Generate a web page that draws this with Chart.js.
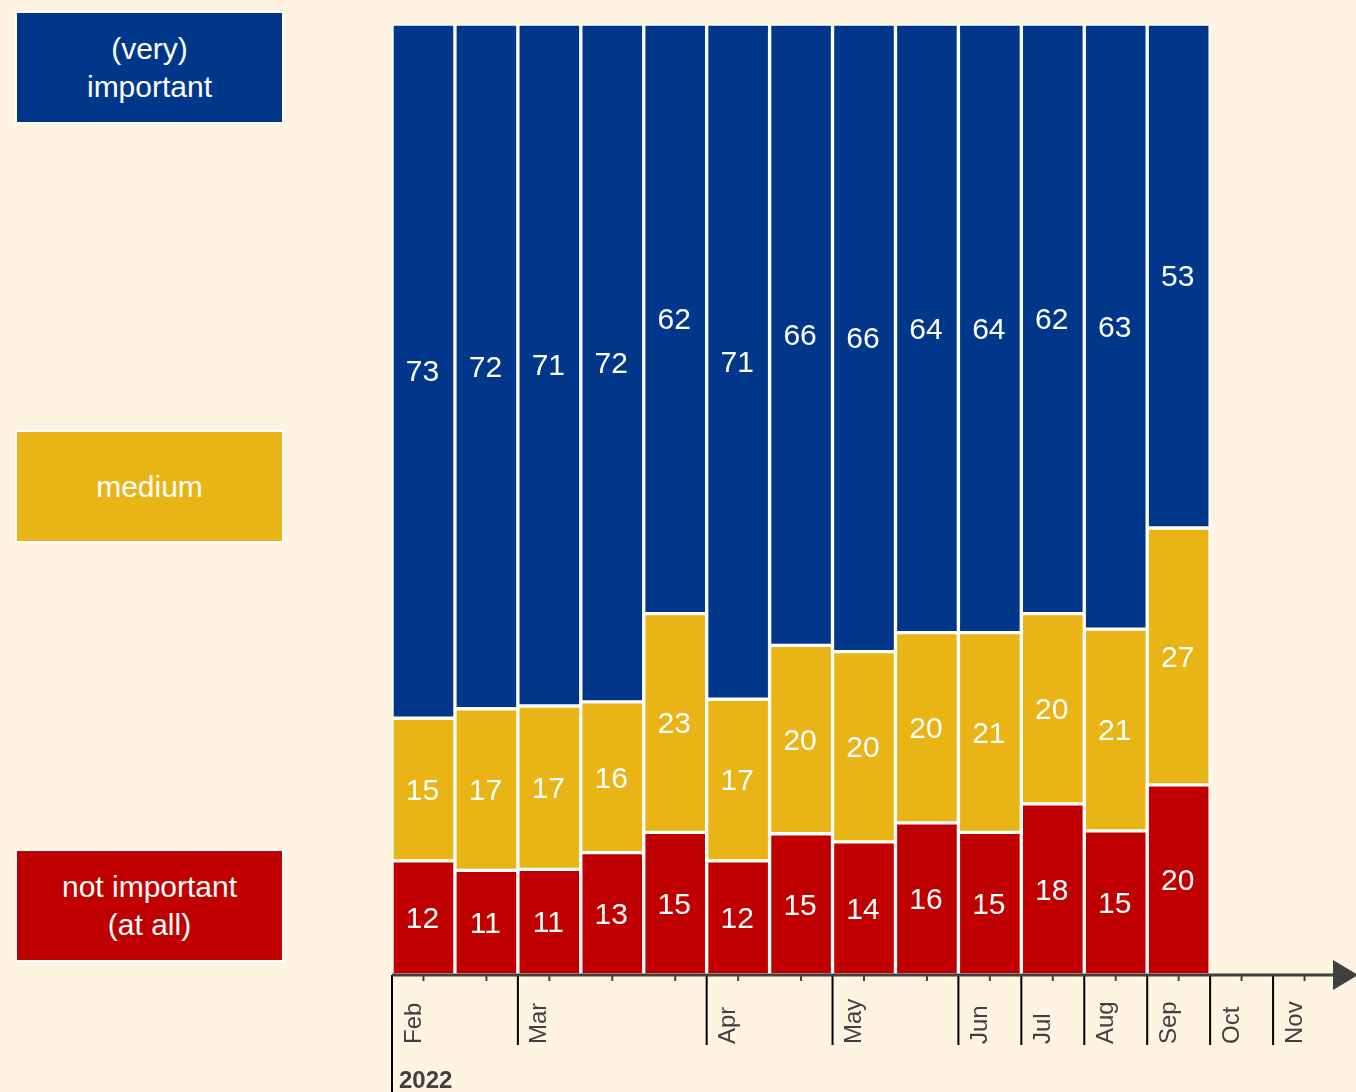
<!DOCTYPE html>
<html>
<head>
<meta charset="utf-8">
<script src="https://cdn.jsdelivr.net/npm/chart.js@4"></script>
<style>
  html, body { margin: 0; padding: 0; background: #fff3e1; }
  #wrap { position: relative; width: 1356px; height: 1092px; overflow: hidden; }
  canvas { position: absolute; left: 0; top: 0; }
  .legend-box {
    position: absolute; left: 15px; width: 265px; height: 109px;
    border: 2px solid #ffffff; color: #ffffff;
    font-family: "Liberation Sans", Arial, sans-serif; font-size: 30px; line-height: 38px;
    display: flex; align-items: center; justify-content: center; text-align: center;
  }
</style>
</head>
<body>
<div id="wrap">
  <canvas id="chart" width="1356" height="1092"></canvas>
  <div class="legend-box" style="top:11px;background:#00378b;">(very)<br>important</div>
  <div class="legend-box" style="top:430px;background:#e9b416;">medium</div>
  <div class="legend-box" style="top:849px;background:#c00000;">not important<br>(at all)</div>
</div>
<script>
// 月份槽位（最后两个没有数据）
const slots = ['Feb', 'Feb', 'Mar', 'Mar', 'Mar', 'Apr', 'Apr', 'May', 'May', 'Jun', 'Jul', 'Aug', 'Sep', 'Oct', 'Nov'];
const yearLabel = '2022';

// 各系列数值（%）
const notImportant = [12, 11, 11, 13, 15, 12, 15, 14, 16, 15, 18, 15, 20];
const medium = [15, 17, 17, 16, 23, 17, 20, 20, 20, 21, 20, 21, 27];
const important = [73, 72, 71, 72, 62, 71, 66, 66, 64, 64, 62, 63, 53];

const seriesNames = ['not important (at all)', 'medium', '(very) important'];
const seriesColors = ['#c00000', '#e9b416', '#00378b'];

// 归一化到100%
const raw = [notImportant, medium, important];
const totals = notImportant.map((v, i) => v + medium[i] + important[i]);
const shares = raw.map(s => s.map((v, i) => v / totals[i] * 100));

// 数值标签
const valueLabels = {
  id: 'valueLabels',
  afterDatasetsDraw(chart) {
    const ctx = chart.ctx;
    ctx.save();
    ctx.fillStyle = '#ffffff';
    ctx.font = '30px "Liberation Sans", Arial, sans-serif';
    ctx.textAlign = 'center';
    ctx.textBaseline = 'middle';
    chart.data.datasets.forEach((ds, di) => {
      const meta = chart.getDatasetMeta(di);
      meta.data.forEach((bar, i) => {
        if (raw[di][i] == null) return;
        const p = bar.getCenterPoint();
        ctx.fillText(String(raw[di][i]), p.x - 1, p.y + 2);
      });
    });
    ctx.restore();
  }
};

// 时间轴
const timeAxis = {
  id: 'timeAxis',
  afterDraw(chart) {
    const ctx = chart.ctx;
    const area = chart.chartArea;
    const x = chart.scales.x;
    const y0 = area.bottom;
    const step = x.getPixelForValue(1) - x.getPixelForValue(0);
    ctx.save();

    // 月份分隔线和标签
    ctx.strokeStyle = '#000000';
    ctx.lineWidth = 2;
    ctx.font = '24px "Liberation Sans", Arial, sans-serif';
    ctx.fillStyle = '#404040';
    slots.forEach((m, i) => {
      if (i > 0 && slots[i - 1] === m) return;
      const bx = x.getPixelForValue(i) - step / 2;
      ctx.beginPath();
      ctx.moveTo(bx, y0);
      ctx.lineTo(bx, i === 0 ? 1092 : y0 + 70);
      ctx.stroke();
      ctx.save();
      ctx.translate(bx + 22, y0 + 69);
      ctx.rotate(-Math.PI / 2);
      ctx.textAlign = 'left';
      ctx.textBaseline = 'middle';
      ctx.fillText(m, 0, 0);
      ctx.restore();
    });

    // 小刻度
    ctx.strokeStyle = '#404040';
    ctx.lineWidth = 2;
    slots.forEach((m, i) => {
      const cx = x.getPixelForValue(i);
      ctx.beginPath();
      ctx.moveTo(cx, y0);
      ctx.lineTo(cx, y0 + 6);
      ctx.stroke();
    });

    // 坐标轴和箭头
    ctx.strokeStyle = '#404040';
    ctx.lineWidth = 3;
    ctx.beginPath();
    ctx.moveTo(area.left, y0);
    ctx.lineTo(1340, y0);
    ctx.stroke();
    ctx.fillStyle = '#404040';
    ctx.beginPath();
    ctx.moveTo(1333, y0 - 15);
    ctx.lineTo(1358, y0);
    ctx.lineTo(1333, y0 + 15);
    ctx.closePath();
    ctx.fill();

    // 年份
    ctx.fillStyle = '#404040';
    ctx.font = 'bold 24px "Liberation Sans", Arial, sans-serif';
    ctx.textAlign = 'left';
    ctx.textBaseline = 'middle';
    ctx.fillText(yearLabel, area.left + 7, 1081);
    ctx.restore();
  }
};

new Chart(document.getElementById('chart'), {
  type: 'bar',
  data: {
    labels: slots.map((m, i) => m + i),
    datasets: shares.map((s, di) => ({
      label: seriesNames[di],
      data: s,
      backgroundColor: seriesColors[di],
      borderColor: '#ffffff',
      borderWidth: 2,
      borderSkipped: false,
      barPercentage: 1,
      categoryPercentage: 1
    }))
  },
  options: {
    responsive: false,
    animation: false,
    layout: { padding: { left: 392, right: 20, top: 24, bottom: 117 } },
    scales: {
      x: { stacked: true, display: false },
      y: { stacked: true, display: false, min: 0, max: 100 }
    },
    plugins: {
      legend: { display: false },
      tooltip: { enabled: false }
    }
  },
  plugins: [valueLabels, timeAxis]
});
</script>
</body>
</html>
